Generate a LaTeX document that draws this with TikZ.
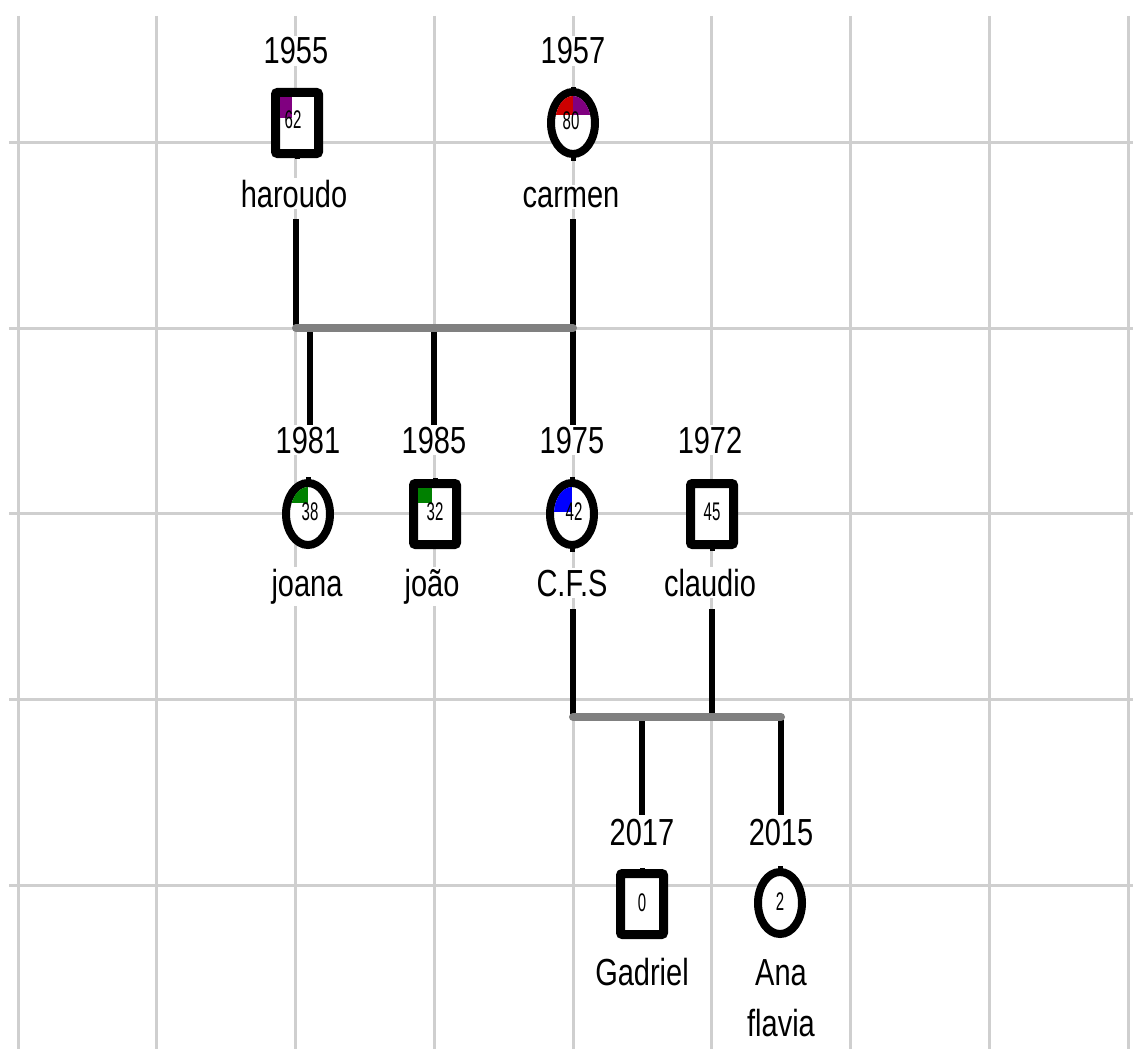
\documentclass[tikz,border=0pt]{standalone}
\usepackage{fontspec}
\setmainfont{Liberation Sans}
\usepackage{graphicx}
\usetikzlibrary{shapes.geometric}
\definecolor{gridc}{HTML}{CFCFCF}
\definecolor{barc}{HTML}{808080}
\definecolor{purq}{HTML}{800080}
\definecolor{redq}{HTML}{CC0000}
\definecolor{grnq}{HTML}{008000}
\definecolor{bluq}{HTML}{0000FF}
\newcommand\lbl[1]{\scalebox{1}[1.3]{#1}}
\newcommand\agetxt[1]{\scalebox{1}[1.7]{\fontsize{15}{16}\selectfont #1}}
\begin{document}
\begin{tikzpicture}[x=1pt,y=-1pt,
  gridline/.style={draw=gridc,line width=3pt},
  txt/.style={inner sep=2pt,fill=white,anchor=base,font=\fontsize{29}{51}\selectfont,align=center},
  sqsym/.style={draw,line width=9pt,rounded corners=2pt,minimum width=43pt,minimum height=61pt,fill=white,inner sep=0pt},
  cisym/.style={draw,ellipse,line width=8pt,minimum width=44pt,minimum height=62pt,fill=white,inner sep=0pt},
  agelbl/.style={inner sep=0pt},
  conn/.style={draw=black,line width=6pt},
  barline/.style={draw=barc,line width=8pt,line cap=round},
  nub/.style={draw=black,line width=5pt}]
\useasboundingbox (0,0) rectangle (1133,1049);
\fill[white] (0,0) rectangle (1133,1049);
% grid
\foreach \k in {0,...,8} \draw[gridline] ({18+138.75*\k},16) -- ({18+138.75*\k},1049);
\foreach \yy in {142,328,513,699,885} \draw[gridline] (9,\yy) -- (1133,\yy);

% connector end points
\coordinate (harL) at (296,219);
\coordinate (carL) at (573,219);
\coordinate (m1L) at (296,328);
\coordinate (m1R) at (573,328);
\coordinate (joaT) at (310,428);
\coordinate (joaB) at (310,330);
\coordinate (jaoT) at (434,428);
\coordinate (jaoB) at (434,330);
\coordinate (cfsT) at (573,428);
\coordinate (cfsL) at (573,609);
\coordinate (claL) at (712,609);
\coordinate (m2L) at (573,717);
\coordinate (m2C) at (712,717);
\coordinate (m2R) at (781,717);
\coordinate (gadB) at (642,719);
\coordinate (gadT) at (642,815);
\coordinate (anaT) at (781,815);

% connectors
\draw[conn] (harL) -- (m1L);
\draw[conn] (carL) -- (m1R) -- (cfsT);
\draw[conn] (joaB) -- (joaT);
\draw[conn] (jaoB) -- (jaoT);
\draw[barline] (m1L) -- (m1R);
\draw[conn] (cfsL) -- (m2L);
\draw[conn] (claL) -- (m2C);
\draw[conn] (gadB) -- (gadT);
\draw[conn] (m2R) -- (anaT);
\draw[barline] (m2L) -- (m2R);

% ---------- row 1 ----------
\node[txt] (harY) at (296,64) {\lbl{1955}};
\node[txt] (carY) at (573,64) {\lbl{1957}};
\node[txt] (harN) at (294,207) {\lbl{haroudo}};
\node[txt] (carN) at (571,207) {\lbl{carmen}};

\node[sqsym] (har) at (297,123) {};
\fill[purq] (280,97) rectangle (292,118);
\node[agelbl] (harA) at (293,120) {\agetxt{62}};
\draw[nub] ([yshift=4pt]har.south) -- ++(0,5);

\node[cisym] (car) at (573,123) {};
\begin{scope}
  \clip (573,123) ellipse [x radius=18, y radius=27];
  \fill[redq] (573,90) rectangle (552,115);
  \fill[purq] (573,90) rectangle (595,115);
\end{scope}
\node[agelbl] (carA) at (571,121) {\agetxt{80}};
\draw[nub] ([yshift=3pt]car.south) -- ++(0,6);
\draw[nub] ([yshift=-3pt]car.north) -- ++(0,-4);

% ---------- row 2 ----------
\node[txt] (joaY) at (308,453) {\lbl{1981}};
\node[txt] (jaoY) at (434,453) {\lbl{1985}};
\node[txt] (cfsY) at (572,453) {\lbl{1975}};
\node[txt] (claY) at (710,453) {\lbl{1972}};
\node[txt] (joaN) at (307,596) {\lbl{joana}};
\node[txt] (jaoN) at (432,596) {\lbl{joão}};
\node[txt] (cfsN) at (572,596) {\lbl{C.F.S}};
\node[txt] (claN) at (710,596) {\lbl{claudio}};

\node[cisym] (joa) at (308,514) {};
\begin{scope}
  \clip (308,514) ellipse [x radius=18, y radius=27];
  \fill[grnq] (288,484) rectangle (308,503);
\end{scope}
\node[agelbl] (joaA) at (310,512) {\agetxt{38}};
\draw[nub] ([yshift=-3pt]joa.north) -- ++(0,-5);

\node[sqsym] (jao) at (435,514) {};
\fill[grnq] (418,488) rectangle (432,503);
\node[agelbl] (jaoA) at (435,512) {\agetxt{32}};
\draw[nub] ([yshift=-4pt]jao.north) -- ++(0,-5);

\node[cisym] (cfs) at (572,514) {};
\begin{scope}
  \clip (572,514) ellipse [x radius=18, y radius=27];
  \fill[bluq] (550,484) rectangle (572,512);
\end{scope}
\node[agelbl] (cfsA) at (574,512) {\agetxt{42}};
\draw[nub] ([yshift=-3pt]cfs.north) -- ++(0,-5);
\draw[nub] ([yshift=3pt]cfs.south) -- ++(0,6);

\node[sqsym] (cla) at (712,514) {};
\node[agelbl] (claA) at (712,512) {\agetxt{45}};
\draw[nub] ([yshift=4pt]cla.south) -- ++(0,6);

% ---------- row 3 ----------
\node[txt] (gadY) at (642,845) {\lbl{2017}};
\node[txt] (anaY) at (781,845) {\lbl{2015}};
\node[txt] (gadN) at (642,985) {\lbl{Gadriel}};
\node[txt] (anaN) at (781,1036) {\lbl{Ana}\\\lbl{flavia}};

\node[sqsym] (gad) at (642,904) {};
\node[agelbl] (gadA) at (642,903) {\agetxt{0}};
\draw[nub] ([yshift=-4pt]gad.north) -- ++(0,-5);

\node[cisym] (ana) at (780,903) {};
\node[agelbl] (anaA) at (780,902) {\agetxt{2}};
\draw[nub] ([yshift=-3pt]ana.north) -- ++(0,-5);
\end{tikzpicture}
\end{document}
